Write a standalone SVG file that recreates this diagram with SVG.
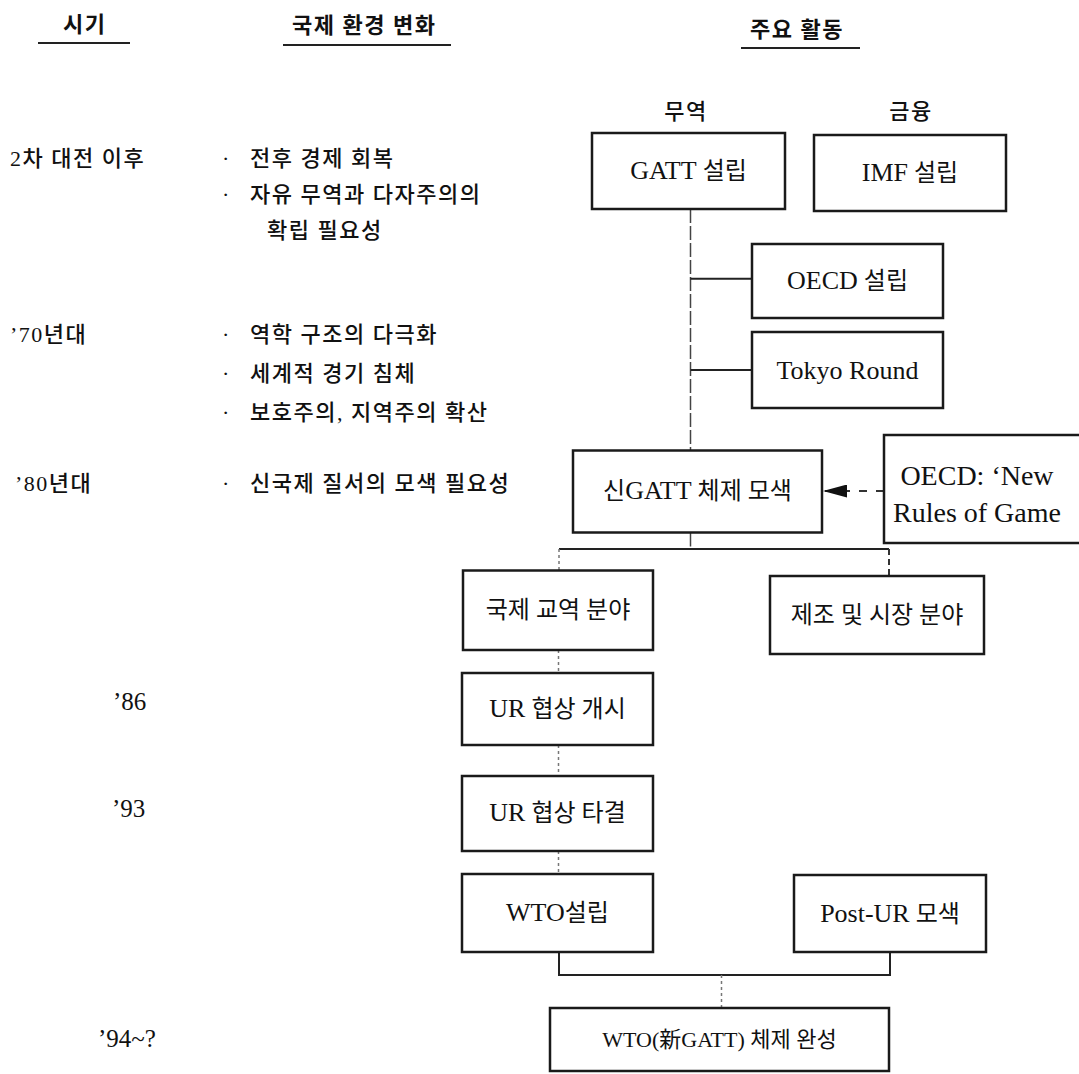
<svg xmlns="http://www.w3.org/2000/svg" width="1079" height="1074" viewBox="0 0 1079 1074">
<style>
text{font-family:"Liberation Serif","Noto Sans CJK KR",serif;fill:#111}
.hd{font-size:22px;letter-spacing:1.5px;font-weight:700}
.lf{font-size:22px;letter-spacing:1.5px;font-weight:500}
.yr{font-size:25px}
.bx{font-size:24px;text-anchor:middle}
.lat{font-size:26px}
.box{fill:#fff;stroke:#1a1a1a;stroke-width:2.5}
.ul{stroke:#222;stroke-width:2}
.ln{stroke:#222;stroke-width:2;fill:none}
.lt{stroke:#444;stroke-width:1.5;fill:none;stroke-dasharray:14 3}
.dt{stroke:#777;stroke-width:1.5;fill:none;stroke-dasharray:3 3}
.ds{stroke:#333;stroke-width:2;fill:none;stroke-dasharray:8 9}
</style>
<defs>
<marker id="ah" markerUnits="userSpaceOnUse" markerWidth="24" markerHeight="13" viewBox="0 0 24 13" refX="24" refY="6.5" orient="auto">
<path d="M0,0 L24,6.5 L0,13 z" fill="#111"/>
</marker>
</defs>
<rect width="1079" height="1074" fill="#fff"/>

<g id="headers">
<text class="hd" x="63" y="32">시기</text>
<line class="ul" x1="38" y1="43" x2="130" y2="43"/>
<text class="hd" x="292" y="33">국제 환경 변화</text>
<line class="ul" x1="283" y1="45" x2="451" y2="45"/>
<text class="hd" x="750" y="37">주요 활동</text>
<line class="ul" x1="741" y1="48" x2="860" y2="48"/>
<text class="lf" x="686" y="119" text-anchor="middle">무역</text>
<text class="lf" x="911" y="119" text-anchor="middle">금융</text>
</g>

<g id="periods">
<text class="lf" x="10" y="166">2차 대전 이후</text>
<text class="lf" x="10" y="342">’70년대</text>
<text class="lf" x="15" y="491">’80년대</text>
<text class="yr" x="113" y="710">’86</text>
<text class="yr" x="112" y="817">’93</text>
<text class="yr" x="98" y="1047">’94~?</text>
</g>

<g id="environment">
<text class="lf" x="222" y="166">·<tspan x="250">전후 경제 회복</tspan></text>
<text class="lf" x="222" y="202">·<tspan x="250">자유 무역과 다자주의의</tspan></text>
<text class="lf" x="267" y="238">확립 필요성</text>
<text class="lf" x="222" y="342">·<tspan x="250">역학 구조의 다극화</tspan></text>
<text class="lf" x="222" y="381">·<tspan x="250">세계적 경기 침체</tspan></text>
<text class="lf" x="222" y="420">·<tspan x="250">보호주의, 지역주의 확산</tspan></text>
<text class="lf" x="222" y="491">·<tspan x="250">신국제 질서의 모색 필요성</tspan></text>
</g>

<g id="connectors">
<line class="lt" x1="690.5" y1="209" x2="690.5" y2="450.5"/>
<line class="ln" x1="690.5" y1="278.7" x2="752" y2="278.7"/>
<line class="ln" x1="690.5" y1="370" x2="752" y2="370"/>
<line class="ds" x1="884" y1="491" x2="823" y2="491" marker-end="url(#ah)"/>
<line class="lt" x1="690.5" y1="532.5" x2="690.5" y2="549"/>
<line class="ln" x1="559" y1="549" x2="889" y2="549"/>
<line class="dt" x1="559" y1="549" x2="559" y2="570.5"/>
<line class="ds" x1="889" y1="549" x2="889" y2="576" style="stroke-dasharray:6 4"/>
<line class="dt" x1="558.5" y1="650" x2="558.5" y2="673"/>
<line class="dt" x1="558.5" y1="745" x2="558.5" y2="776"/>
<line class="dt" x1="558.5" y1="851" x2="558.5" y2="874"/>
<polyline class="ln" points="559,952 559,975 890,975 890,952"/>
<line class="dt" x1="721.5" y1="975" x2="721.5" y2="1008"/>
</g>

<g id="gatt">
<rect class="box" x="592" y="133" width="193" height="76"/>
<text class="bx" x="688.5" y="179"><tspan class="lat">GATT</tspan> 설립</text>
</g>
<g id="imf">
<rect class="box" x="814" y="135" width="192" height="76"/>
<text class="bx" x="910" y="181"><tspan class="lat">IMF</tspan> 설립</text>
</g>
<g id="oecd">
<rect class="box" x="752" y="244" width="191" height="74"/>
<text class="bx" x="847.5" y="289"><tspan class="lat">OECD</tspan> 설립</text>
</g>
<g id="tokyo">
<rect class="box" x="752" y="332" width="191" height="76"/>
<text class="bx lat" x="847.5" y="379">Tokyo Round</text>
</g>
<g id="newgatt">
<rect class="box" x="573" y="450.5" width="249" height="82"/>
<text class="bx" x="697.5" y="499">신<tspan class="lat">GATT</tspan> 체제 모색</text>
</g>
<g id="oecd-rules">
<rect class="box" x="884" y="435" width="197" height="108"/>
<text class="bx" x="977" y="485" style="font-size:28px">OECD: ‘New</text>
<text class="bx" x="977" y="522" style="font-size:28px">Rules of Game</text>
</g>
<g id="trade-field">
<rect class="box" x="463" y="570.5" width="190" height="79.5"/>
<text class="bx" x="558" y="618">국제 교역 분야</text>
</g>
<g id="mfg-field">
<rect class="box" x="770" y="576" width="214" height="78"/>
<text class="bx" x="877" y="623">제조 및 시장 분야</text>
</g>
<g id="ur-start">
<rect class="box" x="462" y="673" width="191" height="72"/>
<text class="bx" x="557.5" y="717"><tspan class="lat">UR</tspan> 협상 개시</text>
</g>
<g id="ur-end">
<rect class="box" x="462" y="776" width="191" height="75"/>
<text class="bx" x="557.5" y="821"><tspan class="lat">UR</tspan> 협상 타결</text>
</g>
<g id="wto">
<rect class="box" x="462" y="874" width="191" height="78"/>
<text class="bx" x="557.5" y="921"><tspan class="lat">WTO</tspan>설립</text>
</g>
<g id="post-ur">
<rect class="box" x="794" y="875" width="192" height="77"/>
<text class="bx" x="890" y="922"><tspan class="lat">Post-UR</tspan> 모색</text>
</g>
<g id="wto-complete">
<rect class="box" x="550" y="1008" width="339" height="63"/>
<text class="bx" x="719.5" y="1047" style="font-size:22px">WTO(新GATT) 체제 완성</text>
</g>
</svg>
